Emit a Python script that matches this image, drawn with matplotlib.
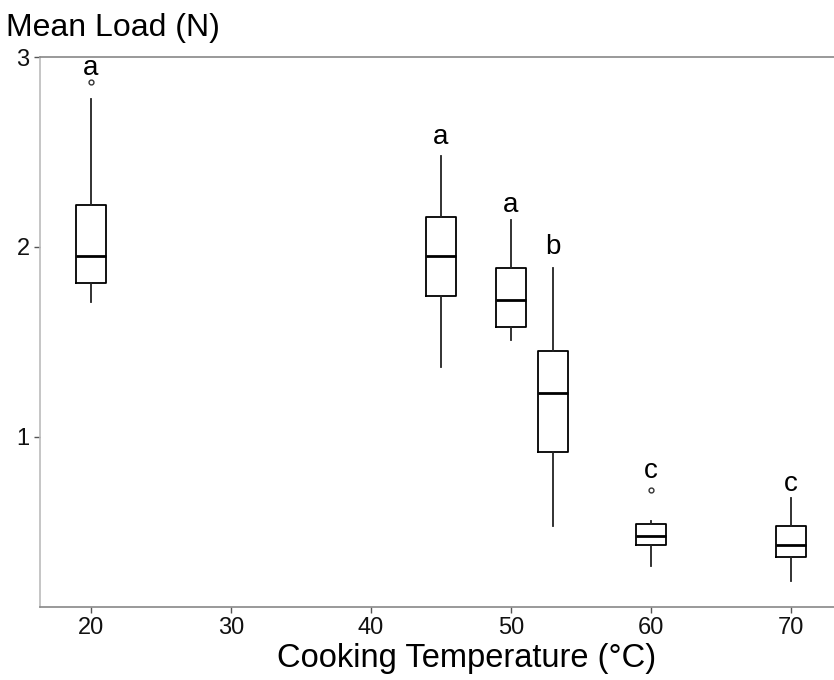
import matplotlib.pyplot as plt

plt.rcParams['font.family'] = ['Liberation Sans', 'DejaVu Sans']

# box statistics
temps = [20, 45, 50, 53, 60, 70]
whislo = [1.71, 1.37, 1.51, 0.53, 0.32, 0.24]
q1 = [1.81, 1.74, 1.58, 0.92, 0.43, 0.37]
med = [1.95, 1.95, 1.72, 1.23, 0.48, 0.43]
q3 = [2.22, 2.16, 1.89, 1.45, 0.54, 0.53]
whishi = [2.78, 2.48, 2.14, 1.89, 0.56, 0.68]
fliers = [[2.87], [], [], [], [0.72], []]
letters = ['a', 'a', 'a', 'b', 'c', 'c']
letter_y = [2.94, 2.58, 2.22, 2.0, 0.82, 0.75]

stats = []
for i in range(len(temps)):
    stats.append({'whislo': whislo[i], 'q1': q1[i], 'med': med[i],
                  'q3': q3[i], 'whishi': whishi[i], 'fliers': fliers[i]})

fig = plt.figure(figsize=(8.34, 6.8), dpi=100)
ax = fig.add_axes([40/834, 1 - 607/680, 1 - 40/834, (607 - 57)/680])

ax.bxp(stats, positions=temps, widths=2.2, showcaps=False,
       boxprops=dict(color='black', linewidth=1.3),
       whiskerprops=dict(color='#222222', linewidth=1.3),
       medianprops=dict(color='black', linewidth=2.0),
       flierprops=dict(marker='o', markersize=3.5, markerfacecolor='white',
                       markeredgecolor='#333333', markeredgewidth=1))

for t, l, y in zip(temps, letters, letter_y):
    ax.text(t, y, l, ha='center', va='center', fontsize=20)

ax.set_xlim(16.36, 73.07)
ax.set_ylim(0.105, 3)
ax.set_xticks([20, 30, 40, 50, 60, 70])
ax.set_xticklabels(['20', '30', '40', '50', '60', '70'])
ax.set_yticks([1, 2, 3])
ax.set_yticklabels(['1', '2', '3'])
ax.tick_params(labelsize=17, color='#555555', length=4, width=1, labelcolor='#111111')

for side in ['left', 'bottom', 'top']:
    ax.spines[side].set_color('#888888')
    ax.spines[side].set_linewidth(1.2)
ax.spines['left'].set_color('#bbbbbb')
ax.spines['right'].set_visible(False)

fig.text(6/834, 1 - 28/680, 'Mean Load (N)', fontsize=23, ha='left', va='center')
fig.text(467/834, 1 - 658/680, 'Cooking Temperature (°C)', fontsize=23.5,
         ha='center', va='center')

fig.savefig('out.png', dpi=100)
